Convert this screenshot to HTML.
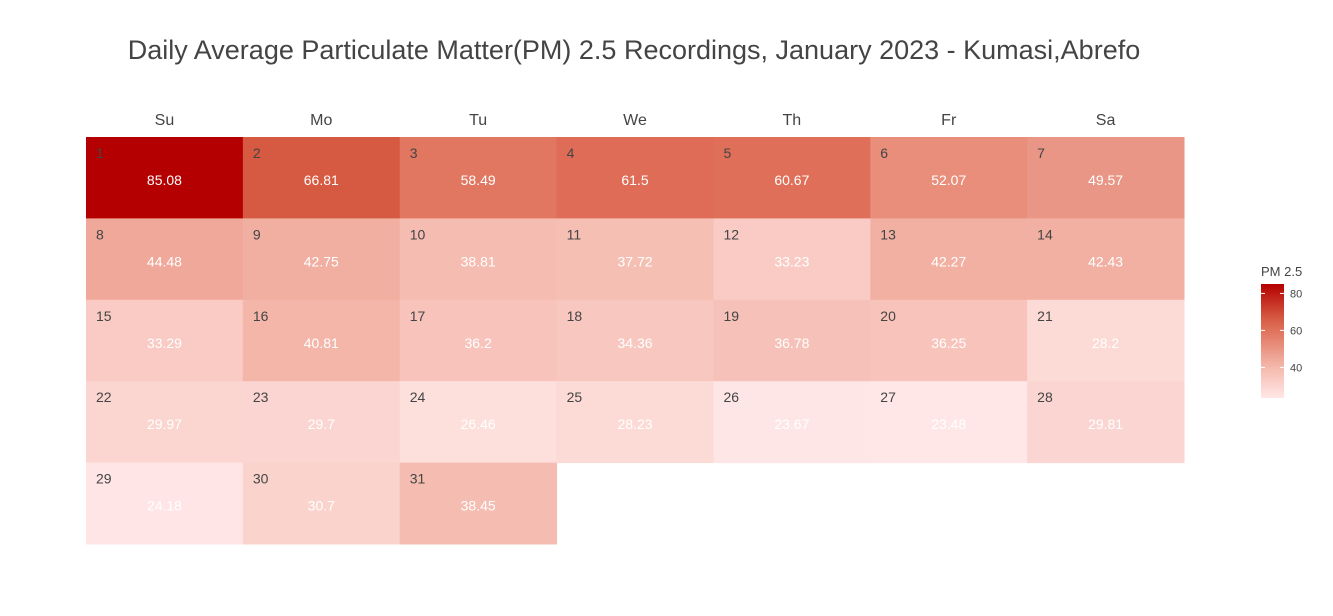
<!DOCTYPE html>
<html><head><meta charset="utf-8"><style>
body{margin:0;background:#fff;font-family:"Liberation Sans",sans-serif;}
svg text{font-family:"Liberation Sans",sans-serif;}
</style></head><body>
<svg width="1333" height="611">
<defs><linearGradient id="lg" x1="0" y1="1" x2="0" y2="0"></linearGradient></defs>
<text x="634" y="59" font-size="27" fill="#444" text-anchor="middle">Daily Average Particulate Matter(PM) 2.5 Recordings, January 2023 - Kumasi,Abrefo</text>
<g id="cells"></g>
<g id="legend"></g>
</svg>
<script>
const days=["Su","Mo","Tu","We","Th","Fr","Sa"];
const values=[85.08,66.81,58.49,61.5,60.67,52.07,49.57,44.48,42.75,38.81,37.72,33.23,42.27,42.43,33.29,40.81,36.2,34.36,36.78,36.25,28.2,29.97,29.7,26.46,28.23,23.67,23.48,29.81,24.18,30.7,38.45];
const legendTicks=[40,60,80];
const startDow=0;
const NS="http://www.w3.org/2000/svg";
const svg=document.querySelector('svg');
const x0=86,colW=156.86,y0=137,rowH=81.4;
const vmin=Math.min(...values),vmax=Math.max(...values);
const stops=[[0,[255,231,231]],[0.27,[244,184,172]],[0.59,[224,114,92]],[0.7,[214,90,66]],[1,[180,0,0]]];
function color(v){const t=(v-vmin)/(vmax-vmin);for(let i=1;i<stops.length;i++){if(t<=stops[i][0]){const a=stops[i-1],b=stops[i];const f=(t-a[0])/(b[0]-a[0]);const c=a[1].map((x,k)=>Math.round(x+(b[1][k]-x)*f));return `rgb(${c})`;}}return 'rgb(180,0,0)';}
function el(t,a,p){const e=document.createElementNS(NS,t);for(const k in a)e.setAttribute(k,a[k]);(p||svg).appendChild(e);return e;}
const g=document.getElementById('cells');
days.forEach((d,i)=>{const t=el('text',{x:x0+colW*(i+0.5),y:125,'font-size':16,fill:'#444','text-anchor':'middle'},g);t.textContent=d;

});
values.forEach((v,i)=>{const p=i+startDow,c=p%7,r=Math.floor(p/7);const x=x0+c*colW,y=y0+r*rowH;
const rc=el('rect',{x:x,y:y,width:colW+0.5,height:rowH+0.5,fill:color(v)},g);


const dn=el('text',{x:x+10,y:y+21,'font-size':14,fill:'#444'},g);dn.textContent=i+1;


const vt=el('text',{x:x+colW/2,y:y+48,'font-size':14,fill:'#fff','text-anchor':'middle'},g);vt.textContent=v;

});
const lg=document.getElementById('legend');
const ly0=284,ly1=398,lx=1261,lw=23;
const grad=document.getElementById('lg');
stops.forEach(s=>{el('stop',{offset:s[0],'stop-color':`rgb(${s[1]})`},grad);});
const lt=el('text',{x:1261,y:276,'font-size':13,fill:'#444'},lg);lt.textContent='PM 2.5';


const lb=el('rect',{x:lx,y:ly0,width:lw,height:ly1-ly0,fill:'url(#lg)'},lg);


legendTicks.forEach(v=>{const y=ly1-(v-vmin)/(vmax-vmin)*(ly1-ly0);
el('line',{x1:lx,x2:lx+4,y1:y,y2:y,stroke:'#fff'},lg);el('line',{x1:lx+lw-4,x2:lx+lw,y1:y,y2:y,stroke:'#fff'},lg);
const t=el('text',{x:1290,y:y+4,'font-size':11,fill:'#444'},lg);t.textContent=v;

});
</script>
</body></html>
